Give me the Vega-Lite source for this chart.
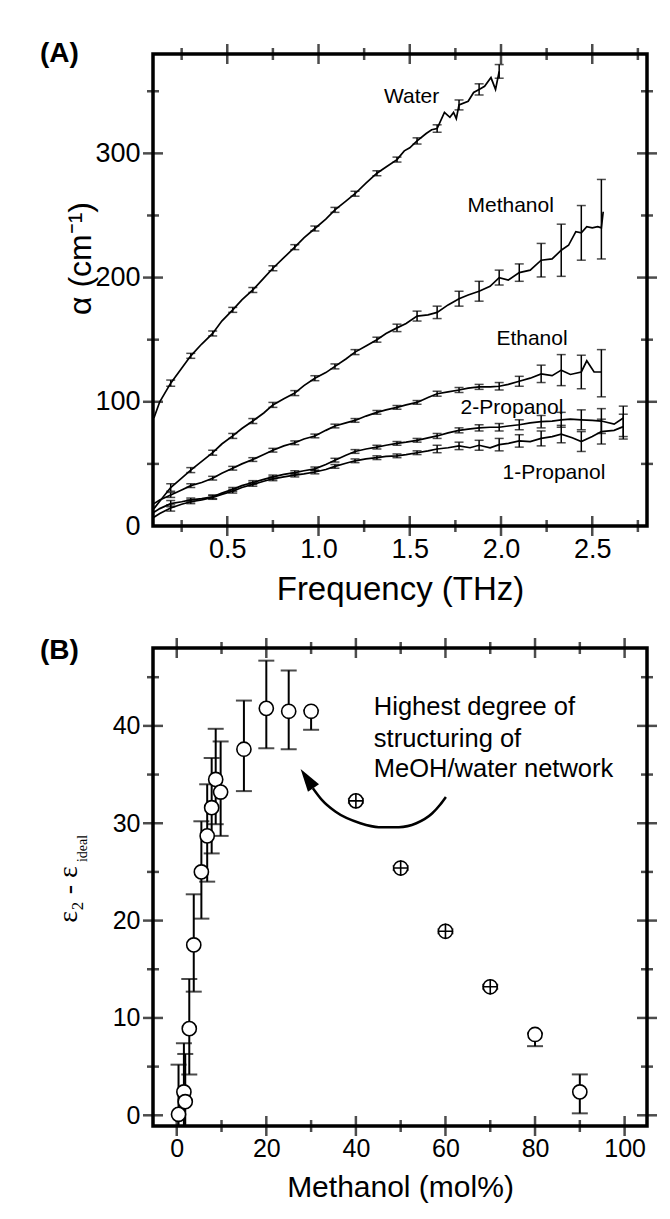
{
  "$schema": "https://vega.github.io/schema/vega-lite/v6.json",
  "background": "white",
  "padding": {"left": 38, "top": 38, "right": 5, "bottom": 5},
  "spacing": 27,
  "config": {
    "view": {"stroke": "black", "strokeWidth": 3.5},
    "font": "Liberation Sans",
    "axis": {"domain": false, "grid": false, "ticks": false, "labelColor": "black", "titleColor": "black", "labelFont": "Liberation Sans", "titleFont": "Liberation Sans", "titleFontWeight": "normal", "labelOverlap": false, "labelFlush": false}
  },
  "datasets": {
    "curves": [
      {"s":"Water","f":0.098,"a":87},{"s":"Water","f":0.13,"a":100},{"s":"Water","f":0.19,"a":115},{"s":"Water","f":0.25,"a":127},{"s":"Water","f":0.30,"a":137},{"s":"Water","f":0.36,"a":146.5},{"s":"Water","f":0.42,"a":155},{"s":"Water","f":0.47,"a":165},{"s":"Water","f":0.53,"a":174},{"s":"Water","f":0.58,"a":182},{"s":"Water","f":0.64,"a":190},{"s":"Water","f":0.70,"a":199.5},{"s":"Water","f":0.75,"a":207.5},{"s":"Water","f":0.81,"a":216},{"s":"Water","f":0.87,"a":224.5},{"s":"Water","f":0.92,"a":232},{"s":"Water","f":0.98,"a":239.5},{"s":"Water","f":1.04,"a":247},{"s":"Water","f":1.09,"a":254.5},{"s":"Water","f":1.15,"a":261.5},{"s":"Water","f":1.20,"a":267.5},{"s":"Water","f":1.26,"a":276},{"s":"Water","f":1.32,"a":284},{"s":"Water","f":1.37,"a":289},{"s":"Water","f":1.43,"a":295},{"s":"Water","f":1.47,"a":302},{"s":"Water","f":1.50,"a":304.5},{"s":"Water","f":1.54,"a":310},{"s":"Water","f":1.59,"a":316},{"s":"Water","f":1.62,"a":319},{"s":"Water","f":1.65,"a":320},{"s":"Water","f":1.69,"a":333},{"s":"Water","f":1.72,"a":329},{"s":"Water","f":1.74,"a":333},{"s":"Water","f":1.755,"a":328},{"s":"Water","f":1.77,"a":339},{"s":"Water","f":1.82,"a":342},{"s":"Water","f":1.85,"a":349},{"s":"Water","f":1.88,"a":351.5},{"s":"Water","f":1.91,"a":354},{"s":"Water","f":1.945,"a":361},{"s":"Water","f":1.97,"a":351.5},{"s":"Water","f":1.99,"a":366},
      {"s":"Methanol","f":0.098,"a":14},{"s":"Methanol","f":0.13,"a":20},{"s":"Methanol","f":0.19,"a":31},{"s":"Methanol","f":0.25,"a":38.5},{"s":"Methanol","f":0.30,"a":45},{"s":"Methanol","f":0.36,"a":52},{"s":"Methanol","f":0.42,"a":59},{"s":"Methanol","f":0.47,"a":66},{"s":"Methanol","f":0.53,"a":72.5},{"s":"Methanol","f":0.58,"a":78.5},{"s":"Methanol","f":0.64,"a":84.5},{"s":"Methanol","f":0.70,"a":91},{"s":"Methanol","f":0.75,"a":97.5},{"s":"Methanol","f":0.81,"a":102.5},{"s":"Methanol","f":0.87,"a":107},{"s":"Methanol","f":0.92,"a":113},{"s":"Methanol","f":0.98,"a":119},{"s":"Methanol","f":1.04,"a":123.5},{"s":"Methanol","f":1.09,"a":128.5},{"s":"Methanol","f":1.15,"a":134.5},{"s":"Methanol","f":1.20,"a":140},{"s":"Methanol","f":1.26,"a":145},{"s":"Methanol","f":1.32,"a":150},{"s":"Methanol","f":1.37,"a":155},{"s":"Methanol","f":1.43,"a":159.5},{"s":"Methanol","f":1.48,"a":163},{"s":"Methanol","f":1.54,"a":169},{"s":"Methanol","f":1.60,"a":170},{"s":"Methanol","f":1.65,"a":172},{"s":"Methanol","f":1.71,"a":178},{"s":"Methanol","f":1.77,"a":183},{"s":"Methanol","f":1.82,"a":186},{"s":"Methanol","f":1.88,"a":189},{"s":"Methanol","f":1.94,"a":193},{"s":"Methanol","f":1.99,"a":200},{"s":"Methanol","f":2.04,"a":198},{"s":"Methanol","f":2.10,"a":204},{"s":"Methanol","f":2.16,"a":206},{"s":"Methanol","f":2.22,"a":214},{"s":"Methanol","f":2.28,"a":215},{"s":"Methanol","f":2.33,"a":222},{"s":"Methanol","f":2.37,"a":226},{"s":"Methanol","f":2.41,"a":237},{"s":"Methanol","f":2.44,"a":236},{"s":"Methanol","f":2.47,"a":241},{"s":"Methanol","f":2.50,"a":240},{"s":"Methanol","f":2.53,"a":241},{"s":"Methanol","f":2.55,"a":240},{"s":"Methanol","f":2.56,"a":253},
      {"s":"Ethanol","f":0.098,"a":18},{"s":"Ethanol","f":0.13,"a":21},{"s":"Ethanol","f":0.19,"a":25},{"s":"Ethanol","f":0.25,"a":29},{"s":"Ethanol","f":0.30,"a":32.5},{"s":"Ethanol","f":0.36,"a":35},{"s":"Ethanol","f":0.42,"a":38.5},{"s":"Ethanol","f":0.47,"a":42.5},{"s":"Ethanol","f":0.53,"a":46.5},{"s":"Ethanol","f":0.58,"a":50},{"s":"Ethanol","f":0.64,"a":53.5},{"s":"Ethanol","f":0.70,"a":57.5},{"s":"Ethanol","f":0.75,"a":61},{"s":"Ethanol","f":0.81,"a":64.5},{"s":"Ethanol","f":0.87,"a":67},{"s":"Ethanol","f":0.92,"a":70},{"s":"Ethanol","f":0.98,"a":72.5},{"s":"Ethanol","f":1.04,"a":77},{"s":"Ethanol","f":1.09,"a":80.5},{"s":"Ethanol","f":1.15,"a":83},{"s":"Ethanol","f":1.20,"a":85},{"s":"Ethanol","f":1.26,"a":88.5},{"s":"Ethanol","f":1.32,"a":91.5},{"s":"Ethanol","f":1.37,"a":93.5},{"s":"Ethanol","f":1.43,"a":95.5},{"s":"Ethanol","f":1.48,"a":97.5},{"s":"Ethanol","f":1.54,"a":99.5},{"s":"Ethanol","f":1.60,"a":103.5},{"s":"Ethanol","f":1.65,"a":106.5},{"s":"Ethanol","f":1.71,"a":108},{"s":"Ethanol","f":1.77,"a":109.5},{"s":"Ethanol","f":1.82,"a":111},{"s":"Ethanol","f":1.88,"a":112},{"s":"Ethanol","f":1.94,"a":112},{"s":"Ethanol","f":1.99,"a":112.5},{"s":"Ethanol","f":2.04,"a":114},{"s":"Ethanol","f":2.10,"a":116.5},{"s":"Ethanol","f":2.16,"a":119},{"s":"Ethanol","f":2.22,"a":122.5},{"s":"Ethanol","f":2.28,"a":121},{"s":"Ethanol","f":2.33,"a":125.5},{"s":"Ethanol","f":2.38,"a":122},{"s":"Ethanol","f":2.44,"a":124},{"s":"Ethanol","f":2.47,"a":133},{"s":"Ethanol","f":2.51,"a":124},{"s":"Ethanol","f":2.55,"a":124},
      {"s":"2-Propanol","f":0.098,"a":11},{"s":"2-Propanol","f":0.13,"a":14},{"s":"2-Propanol","f":0.19,"a":18},{"s":"2-Propanol","f":0.25,"a":19.5},{"s":"2-Propanol","f":0.30,"a":21},{"s":"2-Propanol","f":0.36,"a":22},{"s":"2-Propanol","f":0.42,"a":23.5},{"s":"2-Propanol","f":0.47,"a":26.5},{"s":"2-Propanol","f":0.53,"a":29.5},{"s":"2-Propanol","f":0.58,"a":32.5},{"s":"2-Propanol","f":0.64,"a":35},{"s":"2-Propanol","f":0.70,"a":37.5},{"s":"2-Propanol","f":0.75,"a":39.5},{"s":"2-Propanol","f":0.81,"a":41.5},{"s":"2-Propanol","f":0.87,"a":43},{"s":"2-Propanol","f":0.92,"a":44.5},{"s":"2-Propanol","f":0.98,"a":46},{"s":"2-Propanol","f":1.04,"a":49.5},{"s":"2-Propanol","f":1.09,"a":53},{"s":"2-Propanol","f":1.15,"a":57},{"s":"2-Propanol","f":1.20,"a":60},{"s":"2-Propanol","f":1.26,"a":62},{"s":"2-Propanol","f":1.32,"a":63.5},{"s":"2-Propanol","f":1.37,"a":65},{"s":"2-Propanol","f":1.43,"a":66.5},{"s":"2-Propanol","f":1.48,"a":67.5},{"s":"2-Propanol","f":1.54,"a":69},{"s":"2-Propanol","f":1.60,"a":71},{"s":"2-Propanol","f":1.65,"a":72.5},{"s":"2-Propanol","f":1.71,"a":75},{"s":"2-Propanol","f":1.77,"a":77},{"s":"2-Propanol","f":1.82,"a":78},{"s":"2-Propanol","f":1.88,"a":79},{"s":"2-Propanol","f":1.94,"a":79.5},{"s":"2-Propanol","f":1.99,"a":79.5},{"s":"2-Propanol","f":2.04,"a":80.5},{"s":"2-Propanol","f":2.10,"a":81.5},{"s":"2-Propanol","f":2.16,"a":83},{"s":"2-Propanol","f":2.22,"a":84},{"s":"2-Propanol","f":2.28,"a":84.5},{"s":"2-Propanol","f":2.33,"a":85.5},{"s":"2-Propanol","f":2.38,"a":86},{"s":"2-Propanol","f":2.44,"a":85.5},{"s":"2-Propanol","f":2.50,"a":85},{"s":"2-Propanol","f":2.55,"a":84.5},{"s":"2-Propanol","f":2.62,"a":82},{"s":"2-Propanol","f":2.67,"a":87},
      {"s":"1-Propanol","f":0.098,"a":7},{"s":"1-Propanol","f":0.13,"a":10},{"s":"1-Propanol","f":0.19,"a":14.5},{"s":"1-Propanol","f":0.25,"a":17.5},{"s":"1-Propanol","f":0.30,"a":19.5},{"s":"1-Propanol","f":0.36,"a":21},{"s":"1-Propanol","f":0.42,"a":23},{"s":"1-Propanol","f":0.47,"a":25.5},{"s":"1-Propanol","f":0.53,"a":28},{"s":"1-Propanol","f":0.58,"a":31},{"s":"1-Propanol","f":0.64,"a":33.5},{"s":"1-Propanol","f":0.70,"a":36},{"s":"1-Propanol","f":0.75,"a":38},{"s":"1-Propanol","f":0.81,"a":39.5},{"s":"1-Propanol","f":0.87,"a":41},{"s":"1-Propanol","f":0.92,"a":42},{"s":"1-Propanol","f":0.98,"a":43.5},{"s":"1-Propanol","f":1.04,"a":45.5},{"s":"1-Propanol","f":1.09,"a":48},{"s":"1-Propanol","f":1.15,"a":50.5},{"s":"1-Propanol","f":1.20,"a":52.5},{"s":"1-Propanol","f":1.26,"a":54},{"s":"1-Propanol","f":1.32,"a":55},{"s":"1-Propanol","f":1.37,"a":56},{"s":"1-Propanol","f":1.43,"a":56.5},{"s":"1-Propanol","f":1.48,"a":57.5},{"s":"1-Propanol","f":1.54,"a":59},{"s":"1-Propanol","f":1.60,"a":60.5},{"s":"1-Propanol","f":1.65,"a":62},{"s":"1-Propanol","f":1.71,"a":63},{"s":"1-Propanol","f":1.77,"a":64.5},{"s":"1-Propanol","f":1.83,"a":63},{"s":"1-Propanol","f":1.88,"a":65},{"s":"1-Propanol","f":1.94,"a":63},{"s":"1-Propanol","f":1.99,"a":65.5},{"s":"1-Propanol","f":2.04,"a":66.5},{"s":"1-Propanol","f":2.10,"a":68.5},{"s":"1-Propanol","f":2.16,"a":68},{"s":"1-Propanol","f":2.22,"a":70.5},{"s":"1-Propanol","f":2.28,"a":72},{"s":"1-Propanol","f":2.33,"a":74},{"s":"1-Propanol","f":2.39,"a":71},{"s":"1-Propanol","f":2.44,"a":68},{"s":"1-Propanol","f":2.50,"a":72},{"s":"1-Propanol","f":2.55,"a":76},{"s":"1-Propanol","f":2.62,"a":77},{"s":"1-Propanol","f":2.67,"a":80}
    ],
    "errA": [
      {"s":"Water","f":0.19,"lo":112.5,"hi":117.5},{"s":"Water","f":0.30,"lo":135,"hi":139},{"s":"Water","f":0.42,"lo":153,"hi":157},{"s":"Water","f":0.53,"lo":172,"hi":176},{"s":"Water","f":0.64,"lo":188,"hi":192},{"s":"Water","f":0.75,"lo":205.5,"hi":209.5},{"s":"Water","f":0.87,"lo":222.5,"hi":226.5},{"s":"Water","f":0.98,"lo":237.5,"hi":241.5},{"s":"Water","f":1.09,"lo":252.5,"hi":256.5},{"s":"Water","f":1.20,"lo":265.5,"hi":269.5},{"s":"Water","f":1.32,"lo":282,"hi":286},{"s":"Water","f":1.43,"lo":293,"hi":297},{"s":"Water","f":1.54,"lo":307.5,"hi":312.5},{"s":"Water","f":1.65,"lo":317,"hi":323},{"s":"Water","f":1.77,"lo":335,"hi":343},{"s":"Water","f":1.88,"lo":347,"hi":356},{"s":"Water","f":1.99,"lo":360.5,"hi":371.5},
      {"s":"Methanol","f":0.19,"lo":28,"hi":34},{"s":"Methanol","f":0.30,"lo":43,"hi":47},{"s":"Methanol","f":0.42,"lo":57,"hi":61},{"s":"Methanol","f":0.53,"lo":70.5,"hi":74.5},{"s":"Methanol","f":0.64,"lo":82.5,"hi":86.5},{"s":"Methanol","f":0.75,"lo":95.5,"hi":99.5},{"s":"Methanol","f":0.87,"lo":105,"hi":109},{"s":"Methanol","f":0.98,"lo":117,"hi":121},{"s":"Methanol","f":1.09,"lo":126.5,"hi":130.5},{"s":"Methanol","f":1.20,"lo":138,"hi":142},{"s":"Methanol","f":1.32,"lo":148,"hi":152},{"s":"Methanol","f":1.43,"lo":156.5,"hi":162.5},{"s":"Methanol","f":1.54,"lo":165,"hi":173},{"s":"Methanol","f":1.65,"lo":167,"hi":177},{"s":"Methanol","f":1.77,"lo":177,"hi":189},{"s":"Methanol","f":1.88,"lo":181,"hi":197},{"s":"Methanol","f":1.99,"lo":194,"hi":206},{"s":"Methanol","f":2.10,"lo":197,"hi":211},{"s":"Methanol","f":2.22,"lo":200.5,"hi":227.5},{"s":"Methanol","f":2.33,"lo":201,"hi":243},{"s":"Methanol","f":2.44,"lo":214,"hi":258},{"s":"Methanol","f":2.55,"lo":215,"hi":279},
      {"s":"Ethanol","f":0.19,"lo":23,"hi":27},{"s":"Ethanol","f":0.30,"lo":31,"hi":34},{"s":"Ethanol","f":0.42,"lo":37,"hi":40},{"s":"Ethanol","f":0.53,"lo":45,"hi":48},{"s":"Ethanol","f":0.64,"lo":52,"hi":55},{"s":"Ethanol","f":0.75,"lo":59.5,"hi":62.5},{"s":"Ethanol","f":0.87,"lo":65.5,"hi":68.5},{"s":"Ethanol","f":0.98,"lo":71,"hi":74},{"s":"Ethanol","f":1.09,"lo":79,"hi":82},{"s":"Ethanol","f":1.20,"lo":83.5,"hi":86.5},{"s":"Ethanol","f":1.32,"lo":90,"hi":93},{"s":"Ethanol","f":1.43,"lo":94,"hi":97},{"s":"Ethanol","f":1.54,"lo":98,"hi":101},{"s":"Ethanol","f":1.65,"lo":104.5,"hi":108.5},{"s":"Ethanol","f":1.77,"lo":107.5,"hi":111.5},{"s":"Ethanol","f":1.88,"lo":110,"hi":114},{"s":"Ethanol","f":1.99,"lo":109.5,"hi":115.5},{"s":"Ethanol","f":2.10,"lo":112.5,"hi":120.5},{"s":"Ethanol","f":2.22,"lo":115.5,"hi":129.5},{"s":"Ethanol","f":2.33,"lo":113,"hi":138},{"s":"Ethanol","f":2.44,"lo":110.5,"hi":137.5},{"s":"Ethanol","f":2.55,"lo":104,"hi":142},
      {"s":"2-Propanol","f":0.19,"lo":15.5,"hi":20.5},{"s":"2-Propanol","f":0.30,"lo":19.5,"hi":22.5},{"s":"2-Propanol","f":0.42,"lo":22,"hi":25},{"s":"2-Propanol","f":0.53,"lo":28,"hi":31},{"s":"2-Propanol","f":0.64,"lo":33.5,"hi":36.5},{"s":"2-Propanol","f":0.75,"lo":38,"hi":41},{"s":"2-Propanol","f":0.87,"lo":41.5,"hi":44.5},{"s":"2-Propanol","f":0.98,"lo":44.5,"hi":47.5},{"s":"2-Propanol","f":1.09,"lo":51.5,"hi":54.5},{"s":"2-Propanol","f":1.20,"lo":58.5,"hi":61.5},{"s":"2-Propanol","f":1.32,"lo":62,"hi":65},{"s":"2-Propanol","f":1.43,"lo":65,"hi":68},{"s":"2-Propanol","f":1.54,"lo":67.5,"hi":70.5},{"s":"2-Propanol","f":1.65,"lo":70.5,"hi":74.5},{"s":"2-Propanol","f":1.77,"lo":75,"hi":79},{"s":"2-Propanol","f":1.88,"lo":76.5,"hi":81.5},{"s":"2-Propanol","f":1.99,"lo":76.5,"hi":82.5},{"s":"2-Propanol","f":2.10,"lo":77.5,"hi":85.5},{"s":"2-Propanol","f":2.22,"lo":79,"hi":89},{"s":"2-Propanol","f":2.33,"lo":79.5,"hi":91.5},{"s":"2-Propanol","f":2.44,"lo":77.5,"hi":93.5},{"s":"2-Propanol","f":2.55,"lo":74.5,"hi":94.5},{"s":"2-Propanol","f":2.67,"lo":72,"hi":96.5},
      {"s":"1-Propanol","f":0.19,"lo":12,"hi":17},{"s":"1-Propanol","f":0.30,"lo":18,"hi":21},{"s":"1-Propanol","f":0.42,"lo":21.5,"hi":24.5},{"s":"1-Propanol","f":0.53,"lo":26.5,"hi":29.5},{"s":"1-Propanol","f":0.64,"lo":32,"hi":35},{"s":"1-Propanol","f":0.75,"lo":36.5,"hi":39.5},{"s":"1-Propanol","f":0.87,"lo":39.5,"hi":42.5},{"s":"1-Propanol","f":0.98,"lo":42,"hi":45},{"s":"1-Propanol","f":1.09,"lo":46.5,"hi":49.5},{"s":"1-Propanol","f":1.20,"lo":51,"hi":54},{"s":"1-Propanol","f":1.32,"lo":53.5,"hi":56.5},{"s":"1-Propanol","f":1.43,"lo":55,"hi":58},{"s":"1-Propanol","f":1.54,"lo":57.5,"hi":60.5},{"s":"1-Propanol","f":1.65,"lo":59,"hi":65},{"s":"1-Propanol","f":1.77,"lo":61.5,"hi":67.5},{"s":"1-Propanol","f":1.88,"lo":61,"hi":69},{"s":"1-Propanol","f":1.99,"lo":60.5,"hi":70.5},{"s":"1-Propanol","f":2.10,"lo":63.5,"hi":73.5},{"s":"1-Propanol","f":2.22,"lo":64.5,"hi":76.5},{"s":"1-Propanol","f":2.33,"lo":67,"hi":81},{"s":"1-Propanol","f":2.44,"lo":60,"hi":76},{"s":"1-Propanol","f":2.55,"lo":66,"hi":86},{"s":"1-Propanol","f":2.67,"lo":70,"hi":90}
    ],
    "labelsA": [
      {"t":"Water","f":1.51,"a":345},{"t":"Methanol","f":2.053,"a":258},{"t":"Ethanol","f":2.17,"a":150.6},{"t":"2-Propanol","f":2.06,"a":95},{"t":"1-Propanol","f":2.29,"a":42.7}
    ],
    "tAxM": [{"v":0.5},{"v":1},{"v":1.5},{"v":2},{"v":2.5}],
    "tAxm": [{"v":0.25},{"v":0.75},{"v":1.25},{"v":1.75},{"v":2.25},{"v":2.75}],
    "tAyM": [{"v":100},{"v":200},{"v":300}],
    "tAym": [{"v":50},{"v":150},{"v":250},{"v":350}],
    "tBxM": [{"v":0},{"v":20},{"v":40},{"v":60},{"v":80},{"v":100}],
    "tBxm": [{"v":10},{"v":30},{"v":50},{"v":70},{"v":90}],
    "tByM": [{"v":0},{"v":10},{"v":20},{"v":30},{"v":40}],
    "tBym": [{"v":5},{"v":15},{"v":25},{"v":35},{"v":45}],
    "pointsB": [
      {"x":0.4,"y":0.1,"lo":-5,"hi":5.2},{"x":1.6,"y":2.4,"lo":-2.6,"hi":7.4},{"x":1.9,"y":1.4,"lo":-3.5,"hi":6.3},{"x":2.8,"y":8.9,"lo":4.2,"hi":14.0},{"x":3.8,"y":17.5,"lo":12.7,"hi":22.7},{"x":5.5,"y":25.0,"lo":20.2,"hi":30.2},{"x":6.8,"y":28.7,"lo":24.0,"hi":34.0},{"x":7.8,"y":31.6,"lo":26.9,"hi":36.7},{"x":8.7,"y":34.5,"lo":29.9,"hi":39.7},{"x":9.8,"y":33.2,"lo":28.7,"hi":38.4},{"x":15,"y":37.6,"lo":33.3,"hi":42.6},{"x":20,"y":41.8,"lo":37.7,"hi":46.7},{"x":25,"y":41.5,"lo":37.6,"hi":45.7},{"x":30,"y":41.5,"lo":39.6,"hi":41.6},{"x":40,"y":32.3,"lo":32.1,"hi":32.5},{"x":50,"y":25.4,"lo":25.2,"hi":25.6},{"x":60,"y":18.9,"lo":18.7,"hi":19.1},{"x":70,"y":13.2,"lo":13.0,"hi":13.4},{"x":80,"y":8.3,"lo":7.1,"hi":8.4},{"x":90,"y":2.4,"lo":0.2,"hi":4.2}
    ],
    "arrowB": [
      {"x":30.4,"y":33.6},{"x":32.4,"y":32.4},{"x":35.4,"y":31.2},{"x":41.0,"y":30.0},{"x":45.1,"y":29.6},{"x":49.6,"y":29.6},{"x":53.5,"y":30.0},{"x":57.0,"y":31.0},{"x":58.8,"y":31.9},{"x":60.1,"y":32.7}
    ],
    "headB": [{"x":29.1,"y":34.6}],
    "textB": [
      {"t":"Highest degree of","x":44,"y":41.95},{"t":"structuring of","x":44,"y":38.7},{"t":"MeOH/water network","x":44,"y":35.6}
    ]
  },
  "vconcat": [
    {
      "width": 494,
      "height": 472,
      "title": {"text": "(A)", "anchor": "start", "frame": "group", "orient": "top", "fontSize": 28, "fontWeight": "bold", "font": "Liberation Sans", "color": "black", "dx": -113, "offset": -24},
      "layer": [
        {
          "data": {"name": "curves"},
          "mark": {"type": "line", "color": "black", "strokeWidth": 1.7, "clip": true},
          "encoding": {
            "x": {"field": "f", "type": "quantitative", "scale": {"domain": [0.093, 2.80], "nice": false, "zero": false},
              "axis": {"orient": "bottom", "values": [0.5,1,1.5,2,2.5], "format": ".1f", "labelFontSize": 27, "labelPadding": 10, "title": "Frequency (THz)", "titleFontSize": 33, "titlePadding": 11}},
            "y": {"field": "a", "type": "quantitative", "scale": {"domain": [0, 380], "nice": false, "zero": false},
              "axis": {"orient": "left", "values": [0,100,200,300], "labelFontSize": 27, "labelPadding": 13, "title": "α (cm⁻¹)", "titleFontSize": 32, "titleX": -73, "titleY": 204, "titleBaseline": "middle", "titleAlign": "center", "titleAngle": 270}},
            "detail": {"field": "s", "type": "nominal"}
          }
        },
        {
          "data": {"name": "errA"},
          "mark": {"type": "rule", "color": "black", "strokeWidth": 1.5, "clip": true},
          "encoding": {
            "x": {"field": "f", "type": "quantitative"},
            "y": {"field": "lo", "type": "quantitative"},
            "y2": {"field": "hi"}
          }
        },
        {
          "data": {"name": "errA"},
          "mark": {"type": "tick", "orient": "horizontal", "color": "black", "size": 9, "thickness": 1.5, "clip": true},
          "encoding": {
            "x": {"field": "f", "type": "quantitative"},
            "y": {"field": "lo", "type": "quantitative"}
          }
        },
        {
          "data": {"name": "errA"},
          "mark": {"type": "tick", "orient": "horizontal", "color": "black", "size": 9, "thickness": 1.5, "clip": true},
          "encoding": {
            "x": {"field": "f", "type": "quantitative"},
            "y": {"field": "hi", "type": "quantitative"}
          }
        },
        {
          "data": {"name": "tAxM"},
          "mark": {"type": "tick", "orient": "vertical", "color": "black", "thickness": 2.5, "size": 20},
          "encoding": {"x": {"field": "v", "type": "quantitative"}, "y": {"datum": 0, "type": "quantitative"}}
        },
        {
          "data": {"name": "tAxm"},
          "mark": {"type": "tick", "orient": "vertical", "color": "black", "thickness": 2.5, "size": 12},
          "encoding": {"x": {"field": "v", "type": "quantitative"}, "y": {"datum": 0, "type": "quantitative"}}
        },
        {
          "data": {"name": "tAxM"},
          "mark": {"type": "tick", "orient": "vertical", "color": "black", "thickness": 2.5, "size": 20},
          "encoding": {"x": {"field": "v", "type": "quantitative"}, "y": {"datum": 380, "type": "quantitative"}}
        },
        {
          "data": {"name": "tAxm"},
          "mark": {"type": "tick", "orient": "vertical", "color": "black", "thickness": 2.5, "size": 12},
          "encoding": {"x": {"field": "v", "type": "quantitative"}, "y": {"datum": 380, "type": "quantitative"}}
        },
        {
          "data": {"name": "tAyM"},
          "mark": {"type": "tick", "orient": "horizontal", "color": "black", "thickness": 2.5, "size": 20},
          "encoding": {"y": {"field": "v", "type": "quantitative"}, "x": {"datum": 0.093, "type": "quantitative"}}
        },
        {
          "data": {"name": "tAym"},
          "mark": {"type": "tick", "orient": "horizontal", "color": "black", "thickness": 2.5, "size": 12},
          "encoding": {"y": {"field": "v", "type": "quantitative"}, "x": {"datum": 0.093, "type": "quantitative"}}
        },
        {
          "data": {"name": "tAyM"},
          "mark": {"type": "tick", "orient": "horizontal", "color": "black", "thickness": 2.5, "size": 20},
          "encoding": {"y": {"field": "v", "type": "quantitative"}, "x": {"datum": 2.80, "type": "quantitative"}}
        },
        {
          "data": {"name": "tAym"},
          "mark": {"type": "tick", "orient": "horizontal", "color": "black", "thickness": 2.5, "size": 12},
          "encoding": {"y": {"field": "v", "type": "quantitative"}, "x": {"datum": 2.80, "type": "quantitative"}}
        },
        {
          "data": {"name": "labelsA"},
          "mark": {"type": "text", "font": "Liberation Sans", "fontSize": 21, "align": "center", "baseline": "middle", "color": "black"},
          "encoding": {
            "x": {"field": "f", "type": "quantitative"},
            "y": {"field": "a", "type": "quantitative"},
            "text": {"field": "t"}
          }
        }
      ]
    },
    {
      "width": 494,
      "height": 478,
      "title": {"text": "(B)", "anchor": "start", "frame": "group", "orient": "top", "fontSize": 28, "fontWeight": "bold", "font": "Liberation Sans", "color": "black", "dx": -113, "offset": -27},
      "layer": [
        {
          "data": {"name": "pointsB"},
          "mark": {"type": "rule", "color": "black", "strokeWidth": 2, "clip": true},
          "encoding": {
            "x": {"field": "x", "type": "quantitative", "scale": {"domain": [-5.3, 105], "nice": false, "zero": false},
              "axis": {"orient": "bottom", "values": [0,20,40,60,80,100], "labelFontSize": 25, "labelPadding": 10, "title": "Methanol (mol%)", "titleFontSize": 30, "titlePadding": 11}},
            "y": {"field": "lo", "type": "quantitative", "scale": {"domain": [-1.1, 48], "nice": false, "zero": false},
              "axis": {"orient": "left", "values": [0,10,20,30,40], "labelFontSize": 25, "labelPadding": 13, "title": "ε₂ - ε", "titleFont": "Liberation Serif", "titleFontSize": 28, "titleX": -77, "titleY": 246, "titleAlign": "center", "titleBaseline": "alphabetic", "titleAngle": 270}},
            "y2": {"field": "hi"}
          }
        },
        {
          "data": {"name": "pointsB"},
          "mark": {"type": "tick", "orient": "horizontal", "color": "black", "size": 16, "thickness": 2, "clip": true},
          "encoding": {
            "x": {"field": "x", "type": "quantitative", "axis": null},
            "y": {"field": "lo", "type": "quantitative", "axis": null}
          }
        },
        {
          "data": {"name": "pointsB"},
          "mark": {"type": "tick", "orient": "horizontal", "color": "black", "size": 16, "thickness": 2, "clip": true},
          "encoding": {
            "x": {"field": "x", "type": "quantitative", "axis": null},
            "y": {"field": "hi", "type": "quantitative", "axis": null}
          }
        },
        {
          "data": {"name": "tBxM"},
          "mark": {"type": "tick", "orient": "vertical", "color": "black", "thickness": 2.5, "size": 20},
          "encoding": {"x": {"field": "v", "type": "quantitative", "axis": null}, "y": {"datum": -1.1, "type": "quantitative", "axis": null}}
        },
        {
          "data": {"name": "tBxm"},
          "mark": {"type": "tick", "orient": "vertical", "color": "black", "thickness": 2.5, "size": 12},
          "encoding": {"x": {"field": "v", "type": "quantitative", "axis": null}, "y": {"datum": -1.1, "type": "quantitative", "axis": null}}
        },
        {
          "data": {"name": "tBxM"},
          "mark": {"type": "tick", "orient": "vertical", "color": "black", "thickness": 2.5, "size": 20},
          "encoding": {"x": {"field": "v", "type": "quantitative", "axis": null}, "y": {"datum": 48, "type": "quantitative", "axis": null}}
        },
        {
          "data": {"name": "tBxm"},
          "mark": {"type": "tick", "orient": "vertical", "color": "black", "thickness": 2.5, "size": 12},
          "encoding": {"x": {"field": "v", "type": "quantitative", "axis": null}, "y": {"datum": 48, "type": "quantitative", "axis": null}}
        },
        {
          "data": {"name": "tByM"},
          "mark": {"type": "tick", "orient": "horizontal", "color": "black", "thickness": 2.5, "size": 20},
          "encoding": {"y": {"field": "v", "type": "quantitative", "axis": null}, "x": {"datum": -5.3, "type": "quantitative", "axis": null}}
        },
        {
          "data": {"name": "tBym"},
          "mark": {"type": "tick", "orient": "horizontal", "color": "black", "thickness": 2.5, "size": 12},
          "encoding": {"y": {"field": "v", "type": "quantitative", "axis": null}, "x": {"datum": -5.3, "type": "quantitative", "axis": null}}
        },
        {
          "data": {"name": "tByM"},
          "mark": {"type": "tick", "orient": "horizontal", "color": "black", "thickness": 2.5, "size": 20},
          "encoding": {"y": {"field": "v", "type": "quantitative", "axis": null}, "x": {"datum": 105, "type": "quantitative", "axis": null}}
        },
        {
          "data": {"name": "tBym"},
          "mark": {"type": "tick", "orient": "horizontal", "color": "black", "thickness": 2.5, "size": 12},
          "encoding": {"y": {"field": "v", "type": "quantitative", "axis": null}, "x": {"datum": 105, "type": "quantitative", "axis": null}}
        },
        {
          "data": {"name": "pointsB"},
          "mark": {"type": "point", "shape": "circle", "filled": false, "fill": "white", "fillOpacity": 1, "stroke": "black", "strokeWidth": 1.6, "size": 200, "opacity": 1},
          "encoding": {
            "x": {"field": "x", "type": "quantitative", "axis": null},
            "y": {"field": "y", "type": "quantitative", "axis": null}
          }
        },
        {
          "data": {"name": "pointsB"},
          "transform": [{"filter": "datum.x >= 40 && datum.x <= 70"}],
          "mark": {"type": "point", "shape": "M-1,0L1,0M0,-1L0,1", "filled": false, "stroke": "black", "strokeWidth": 1.6, "size": 240, "opacity": 1},
          "encoding": {
            "x": {"field": "x", "type": "quantitative", "axis": null},
            "y": {"field": "y", "type": "quantitative", "axis": null}
          }
        },
        {
          "data": {"name": "arrowB"},
          "mark": {"type": "line", "color": "black", "strokeWidth": 2.5, "interpolate": "monotone"},
          "encoding": {
            "x": {"field": "x", "type": "quantitative", "axis": null},
            "y": {"field": "y", "type": "quantitative",
              "axis": {"orient": "left", "ticks": false, "labels": false, "domain": false, "title": "ideal", "titleFont": "Liberation Serif", "titleFontSize": 14, "titleX": -67, "titleY": 200, "titleAlign": "center", "titleBaseline": "alphabetic", "titleAngle": 270}}
          }
        },
        {
          "data": {"name": "headB"},
          "mark": {"type": "point", "shape": "M0,-1L0.58,1L-0.58,1Z", "filled": true, "color": "black", "size": 529, "angle": 326, "opacity": 1},
          "encoding": {
            "x": {"field": "x", "type": "quantitative", "axis": null},
            "y": {"field": "y", "type": "quantitative", "axis": null}
          }
        },
        {
          "data": {"name": "textB"},
          "mark": {"type": "text", "font": "Liberation Sans", "fontSize": 25.5, "align": "left", "baseline": "middle", "color": "black"},
          "encoding": {
            "x": {"field": "x", "type": "quantitative", "axis": null},
            "y": {"field": "y", "type": "quantitative", "axis": null},
            "text": {"field": "t"}
          }
        }
      ],
      "resolve": {"axis": {"x": "independent", "y": "independent"}}
    }
  ]
}
